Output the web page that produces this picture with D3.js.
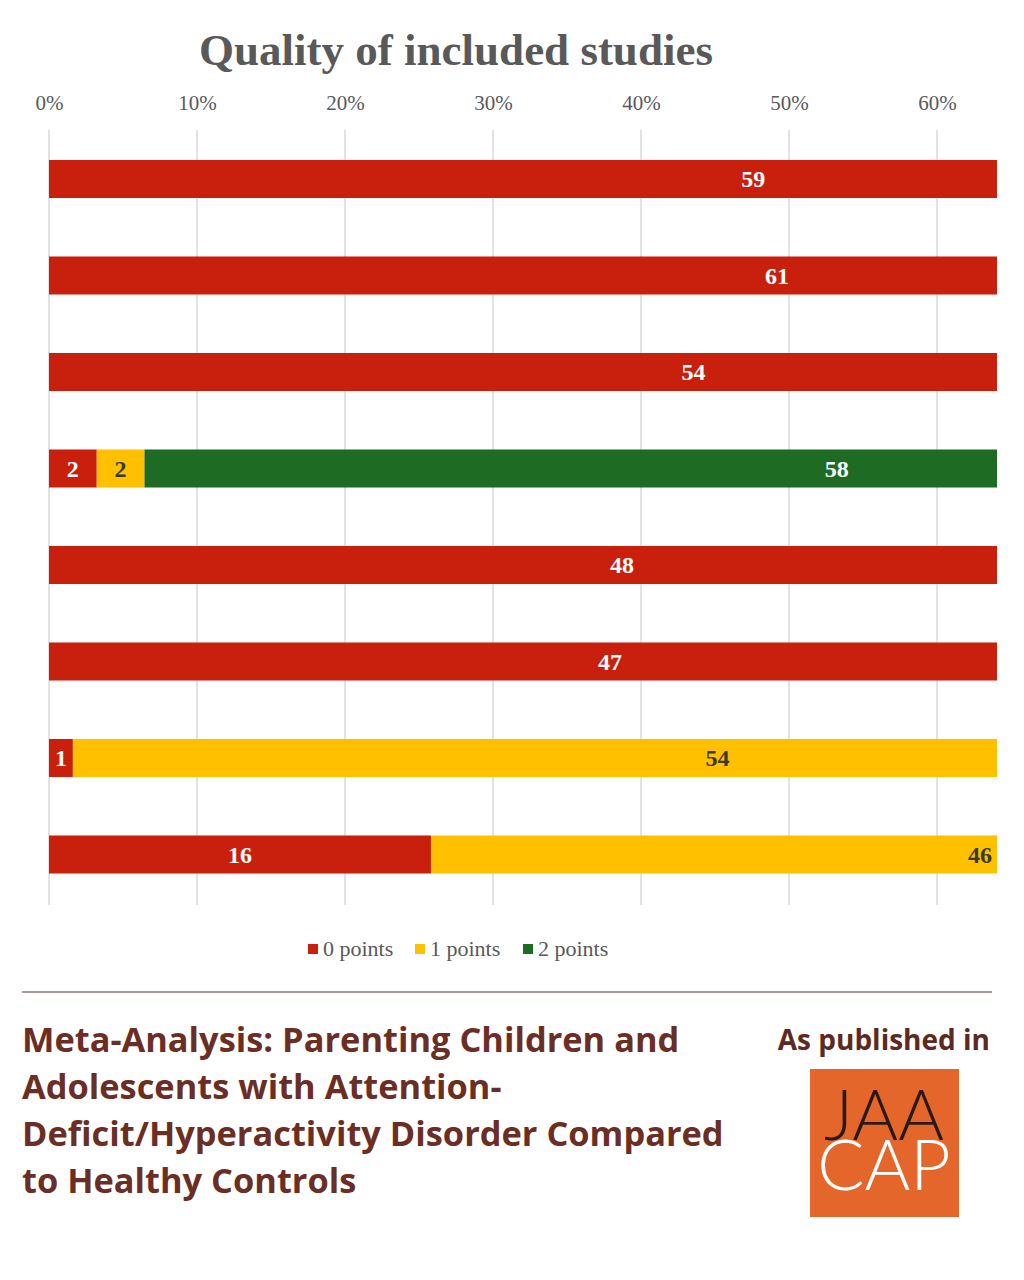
<!DOCTYPE html>
<html lang="en">
<head>
	<meta charset="UTF-8">
	<title>Quality of included studies</title>
	<style>
		body { margin: 0; background: #fff; }
		svg { display: block; }
	</style>
</head>
<body>
	<svg width="1024" height="1280"></svg>

	<script src="https://d3js.org/d3.v7.min.js"></script>
	<script>
		// data (counts of studies out of 62)
		var total = 62;
		var items = ["Item 1", "Item 2", "Item 3", "Item 4", "Item 5", "Item 6", "Item 7", "Item 8"];
		var zeroPoints = [59, 61, 54, 2, 48, 47, 1, 16];
		var onePoints = [0, 0, 0, 2, 0, 0, 54, 46];
		var twoPoints = [0, 0, 0, 58, 0, 0, 0, 0];
		var seriesNames = ["0 points", "1 points", "2 points"];
		var tickValues = [0, 0.1, 0.2, 0.3, 0.4, 0.5, 0.6];

		var colors = ["#c9200e", "#ffc000", "#1e6b24"];
		var labelColors = ["#fff", "#3a3a22", "#fff"];

		var svg = d3.select("svg");

		// x axis runs past 60% and the bars are cut at the plot edge
		var x = d3.scaleLinear()
			.domain([0, 0.6405])
			.range([49, 997]);

		var y = d3.scaleBand()
			.domain(items)
			.range([130.75, 902.75])
			.paddingInner(0.606)
			.paddingOuter(0.303);

		// title
		svg.append("text")
			.attr("x", 456)
			.attr("y", 65)
			.attr("text-anchor", "middle")
			.style("font-family", "'Liberation Serif', 'Times New Roman', serif")
			.style("font-weight", "bold")
			.style("font-size", "45px")
			.style("fill", "#595959")
			.text("Quality of included studies");

		// grid lines
		svg.append("g")
			.selectAll("line")
			.data(tickValues)
			.enter()
			.append("line")
			.attr("x1", function(d){ return x(d); })
			.attr("x2", function(d){ return x(d); })
			.attr("y1", 130)
			.attr("y2", 905)
			.attr("stroke", "#d9d9d9")
			.attr("stroke-width", 1.5);

		// top axis tick labels
		var axis = svg.append("g")
			.attr("transform", "translate(0,110)")
			.call(d3.axisTop(x).tickValues(tickValues).tickFormat(d3.format(".0%")).tickSize(0).tickPadding(0));
		axis.select(".domain").remove();
		axis.selectAll("text")
			.style("font-family", "'Liberation Serif', 'Times New Roman', serif")
			.style("font-size", "21px")
			.style("fill", "#595959");

		// stack the three series
		var rows = items.map(function(name, i){
			return { item: name, s0: zeroPoints[i], s1: onePoints[i], s2: twoPoints[i] };
		});
		var stack = d3.stack().keys(["s0", "s1", "s2"]);
		var layers = stack(rows);

		svg.append("clipPath")
			.attr("id", "plot-clip")
			.append("rect")
			.attr("x", x.range()[0])
			.attr("y", 0)
			.attr("width", x.range()[1] - x.range()[0])
			.attr("height", 1280);

		var bars = svg.append("g").attr("clip-path", "url(#plot-clip)");

		var layerG = bars.selectAll(".layer")
			.data(layers)
			.enter()
			.append("g")
			.attr("class", "layer");

		layerG.selectAll("rect")
			.data(function(d){ return d.filter(function(seg){ return seg[1] > seg[0]; }); })
			.enter()
			.append("rect")
			.attr("x", function(d){ return x(d[0] / total); })
			.attr("y", function(d){ return y(d.data.item); })
			.attr("width", function(d){ return x(d[1] / total) - x(d[0] / total); })
			.attr("height", y.bandwidth())
			.attr("fill", function(){ return colors[d3.select(this.parentNode).datum().index]; });

		// value labels at the middle of each (uncut) segment
		layerG.selectAll("text")
			.data(function(d){ return d.filter(function(seg){ return seg[1] > seg[0]; }); })
			.enter()
			.append("text")
			.attr("x", function(d){ return x((d[0] + d[1]) / 2 / total); })
			.attr("y", function(d){ return y(d.data.item) + y.bandwidth() / 2 + 8; })
			.attr("text-anchor", "middle")
			.style("font-family", "'Liberation Serif', 'Times New Roman', serif")
			.style("font-weight", "bold")
			.style("font-size", "24px")
			.style("fill", function(){ return labelColors[d3.select(this.parentNode).datum().index]; })
			.text(function(d){ return d[1] - d[0]; });

		// legend
		var legendX = [308, 415, 523];
		var legend = svg.append("g");
		var li = legend.selectAll("g")
			.data(seriesNames)
			.enter()
			.append("g")
			.attr("transform", function(d, i){ return "translate(" + legendX[i] + ",944)"; });
		li.append("rect")
			.attr("width", 10)
			.attr("height", 10)
			.attr("fill", function(d, i){ return colors[i]; });
		li.append("text")
			.attr("x", 15)
			.attr("y", 12)
			.style("font-family", "'Liberation Serif', 'Times New Roman', serif")
			.style("font-size", "22px")
			.style("fill", "#595959")
			.text(function(d){ return d; });

		// footer
		svg.append("line")
			.attr("x1", 22)
			.attr("x2", 992)
			.attr("y1", 992)
			.attr("y2", 992)
			.attr("stroke", "#8c7470")
			.attr("stroke-width", 1.5);

		var paperTitle = [
			"Meta-Analysis: Parenting Children and",
			"Adolescents with Attention-",
			"Deficit/Hyperactivity Disorder Compared",
			"to Healthy Controls"
		];
		svg.append("g")
			.selectAll("text")
			.data(paperTitle)
			.enter()
			.append("text")
			.attr("x", 22)
			.attr("y", function(d, i){ return 1052 + i * 47; })
			.style("font-family", "'Open Sans', sans-serif")
			.style("font-weight", "bold")
			.style("font-size", "34.4px")
			.style("fill", "#6b2e24")
			.text(function(d){ return d; });

		svg.append("text")
			.attr("x", 990)
			.attr("y", 1050)
			.attr("text-anchor", "end")
			.style("font-family", "'Open Sans', sans-serif")
			.style("font-weight", "bold")
			.style("font-size", "28px")
			.style("fill", "#5c2a22")
			.text("As published in");

		// journal logo: one text block, two stacked lines
		svg.append("rect")
			.attr("x", 810)
			.attr("y", 1069)
			.attr("width", 149)
			.attr("height", 148)
			.attr("fill", "#e4662a");
		var logo = svg.append("text")
			.attr("text-anchor", "middle")
			.style("font-family", "Lato, sans-serif")
			.style("font-weight", "300")
			.style("font-size", "70px");
		logo.append("tspan")
			.attr("x", 884)
			.attr("y", 1140)
			.style("fill", "#2a1a16")
			.text("JAA");
		logo.append("tspan")
			.attr("x", 884)
			.attr("y", 1190)
			.style("fill", "#fff")
			.text("CAP");
	</script>
</body>
</html>
